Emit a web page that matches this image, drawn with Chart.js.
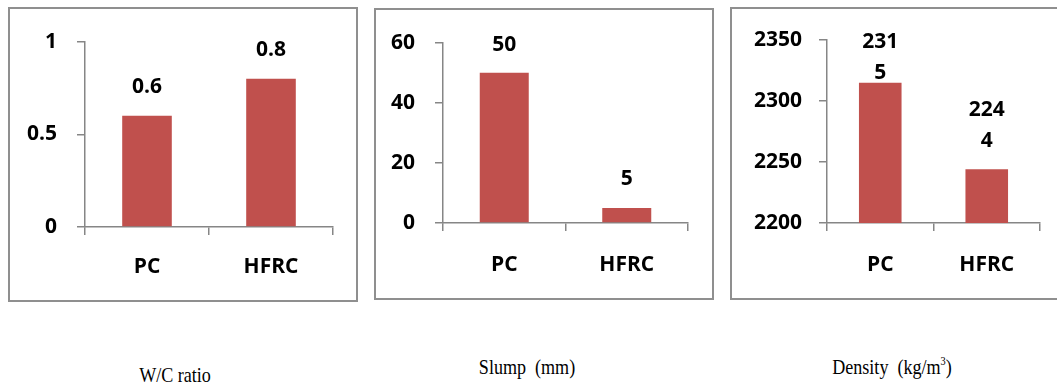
<!DOCTYPE html>
<html>
<head>
<meta charset="utf-8">
<script src="https://cdn.jsdelivr.net/npm/chart.js@4/dist/chart.umd.min.js"></script>
<style>
  html, body { margin: 0; padding: 0; background: #fff; }
  body { width: 1057px; height: 388px; position: relative; overflow: hidden; }
  .panel { position: absolute; border: 2px solid #8f8f8f; box-sizing: border-box; background: #fff; }
  .panel canvas { position: absolute; left: 0; top: 0; }
  .caption { position: absolute; transform: translateX(-50%) scaleX(0.86); white-space: pre;
             font-family: "Liberation Serif", "Times New Roman", serif; font-size: 21px; color: #000; }
  .caption sup { font-size: 12px; vertical-align: 9px; line-height: 0; }
</style>
</head>
<body>
<script>
// categories and measured values
const categories = ['PC', 'HFRC'];
const wcRatio = [0.6, 0.8];
const slump = [50, 5];
const density = [2315, 2244];

// y axis ranges
const wcTicks = { min: 0, max: 1, step: 0.5 };
const slumpTicks = { min: 0, max: 60, step: 20 };
const densityTicks = { min: 2200, max: 2350, step: 50 };

const barColor = '#C0504D';
const axisColor = '#868686';
const fontFamily = '"Open Sans", "Liberation Sans", sans-serif';
const boldFont = { family: fontFamily, weight: 'bold', size: 21 };

// draws the value above each bar, wrapping long numbers like the original labels
const valueLabels = {
  id: 'valueLabels',
  afterDatasetsDraw: function(chart, args, opts) {
    const ctx = chart.ctx;
    const meta = chart.getDatasetMeta(0);
    const values = chart.data.datasets[0].data;
    ctx.save();
    ctx.font = 'bold 21px ' + fontFamily;
    ctx.fillStyle = '#000';
    ctx.textAlign = 'center';
    ctx.textBaseline = 'middle';
    meta.data.forEach((bar, i) => {
      const text = String(values[i]);
      const lines = [];
      if (opts.wrap) {
        for (let k = 0; k < text.length; k += opts.wrap) lines.push(text.slice(k, k + opts.wrap));
      } else {
        lines.push(text);
      }
      let y = bar.y - opts.gap - (lines.length - 1) * opts.lineHeight;
      y = Math.max(y, chart.chartArea.top + 2);
      lines.forEach((ln, k) => ctx.fillText(ln, bar.x, y + k * opts.lineHeight));
    });
    ctx.restore();
  }
};

function makePanel(box, area, values, range, tickPad, labelOpts) {
  const div = document.createElement('div');
  div.className = 'panel';
  div.style.left = box.left + 'px';
  div.style.top = box.top + 'px';
  div.style.width = box.width + 'px';
  div.style.height = box.height + 'px';
  const canvas = document.createElement('canvas');
  const cw = box.width - 4, ch = box.height - 4;
  canvas.width = cw;
  canvas.height = ch;
  canvas.style.width = cw + 'px';
  canvas.style.height = ch + 'px';
  div.appendChild(canvas);
  document.body.appendChild(div);

  const cx = box.left + 2, cy = box.top + 2;
  const yWidth = area.left - cx;
  const xHeight = cy + ch - area.bottom;

  return new Chart(canvas, {
    type: 'bar',
    data: {
      labels: categories,
      datasets: [{
        data: values,
        backgroundColor: barColor,
        borderWidth: 0,
        categoryPercentage: 1,
        barPercentage: 0.4
      }]
    },
    plugins: [valueLabels],
    options: {
      responsive: false,
      animation: false,
      devicePixelRatio: 1,
      layout: {
        padding: { left: 0, bottom: 0, top: area.top - cy, right: cx + cw - area.right }
      },
      scales: {
        x: {
          grid: { drawOnChartArea: false, drawTicks: true, tickLength: 8, color: axisColor, lineWidth: 1.5, offset: true },
          border: { display: true, color: axisColor, width: 1.5 },
          ticks: { color: '#000', font: boldFont, padding: tickPad.x },
          afterFit: function(scale) { scale.height = xHeight; }
        },
        y: {
          min: range.min,
          max: range.max,
          grid: { drawOnChartArea: false, drawTicks: true, tickLength: 8, color: axisColor, lineWidth: 1.5 },
          border: { display: true, color: axisColor, width: 1.5 },
          ticks: {
            stepSize: range.step,
            color: '#000',
            font: boldFont,
            padding: tickPad.y,
            callback: function(v) { return String(v); }
          },
          afterFit: function(scale) { scale.width = yWidth; }
        }
      },
      plugins: {
        legend: { display: false },
        tooltip: { enabled: false },
        valueLabels: labelOpts
      }
    }
  });
}

function addCaption(text, x, y) {
  const el = document.createElement('div');
  el.className = 'caption';
  el.style.left = x + 'px';
  el.style.top = y + 'px';
  el.innerHTML = text;
  document.body.appendChild(el);
}

makePanel({ left: 8, top: 7, width: 350, height: 295 },
          { left: 85, top: 40, right: 333, bottom: 227 },
          wcRatio, wcTicks, { x: 19, y: 20 }, { gap: 29, lineHeight: 29 });
makePanel({ left: 374, top: 8, width: 340, height: 292 },
          { left: 443, top: 42, right: 688, bottom: 223 },
          slump, slumpTicks, { x: 21, y: 20 }, { gap: 29, lineHeight: 29 });
makePanel({ left: 730, top: 7, width: 340, height: 293 },
          { left: 827, top: 40, right: 1040, bottom: 223 },
          density, densityTicks, { x: 21, y: 17 }, { gap: 28, lineHeight: 31, wrap: 3 });

addCaption('W/C ratio', 175, 363);
addCaption('Slump  (mm)', 527, 355);
addCaption('Density  (kg/m<sup>3</sup>)', 892, 355);
</script>
</body>
</html>
